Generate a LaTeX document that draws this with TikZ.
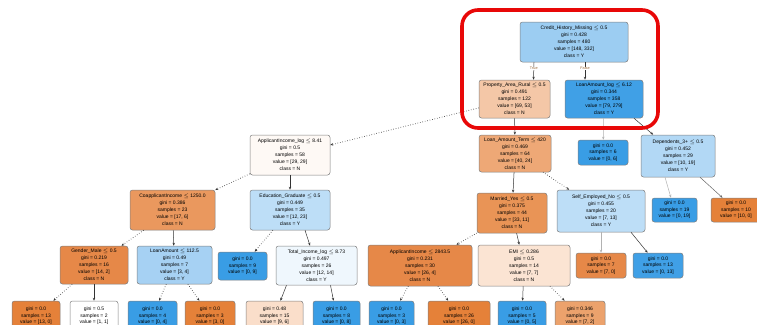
\documentclass[tikz,border=0pt]{standalone}
\usepackage{fontspec}
\setmainfont{Liberation Sans}
\usetikzlibrary{arrows.meta}
\definecolor{cOr}{RGB}{229,129,57}
\definecolor{cBl}{RGB}{57,157,229}
\definecolor{cRoot}{RGB}{156,205,242}
\definecolor{cPeach}{RGB}{244,199,167}
\definecolor{cBlue}{RGB}{64,160,230}
\definecolor{cA}{RGB}{254,249,245}
\definecolor{cB}{RGB}{238,168,118}
\definecolor{cD}{RGB}{178,216,245}
\definecolor{cE}{RGB}{234,152,94}
\definecolor{cF}{RGB}{189,222,247}
\definecolor{cG}{RGB}{233,148,86}
\definecolor{cK}{RGB}{230,136,72}
\definecolor{cL}{RGB}{166,209,243}
\definecolor{cN}{RGB}{239,247,253}
\definecolor{cP}{RGB}{251,228,211}
\definecolor{cNa}{RGB}{250,222,202}
\definecolor{cPb}{RGB}{236,162,108}
\definecolor{cRed}{RGB}{232,8,8}
\tikzset{
  box/.style={draw=black!50, line width=0.5pt, rounded corners=2.5pt, inner sep=0.5pt,
    align=center, font=\fontsize{5}{6.9}\selectfont, text=black},
  leaf/.style={box, font=\fontsize{5}{6.4}\selectfont},
  e/.style={-{Stealth[length=3pt,width=2.4pt]}, line width=0.5pt, black!80},
  ed/.style={e, dotted, line width=0.8pt},
  el/.style={e, black!30},
  lbl/.style={font=\fontsize{3.8}{4}\selectfont, text=brown!80!black, fill=white, inner sep=0.3pt}
}
\begin{document}
\begin{tikzpicture}[x=1pt,y=-1pt]
\clip (0,0) rectangle (757,324);
\fill[white] (0,0) rectangle (757,324);

% level 0
\node[box, fill=cRoot, minimum width=108pt, minimum height=40pt] (root) at (574,42)
  {Credit\_History\_Missing $\le$ 0.5\\gini = 0.428\\samples = 480\\value = [148, 332]\\class = Y};
% level 1
\node[box, fill=cPeach, minimum width=71pt, minimum height=38pt] (n1L) at (514.5,99)
  {Property\_Area\_Rural $\le$ 0.5\\gini = 0.491\\samples = 122\\value = [69, 53]\\class = N};
\node[box, fill=cBlue, minimum width=78pt, minimum height=38pt] (n1R) at (604,99)
  {LoanAmount\_log $\le$ 6.12\\gini = 0.344\\samples = 358\\value = [79, 279]\\class = Y};
% level 2
\node[box, fill=cA, minimum width=80pt, minimum height=40pt] (A) at (290,155)
  {ApplicantIncome\_log $\le$ 8.41\\gini = 0.5\\samples = 58\\value = [29, 29]\\class = N};
\node[box, fill=cB, minimum width=72pt, minimum height=37pt] (B) at (515,153.5)
  {Loan\_Amount\_Term $\le$ 420\\gini = 0.469\\samples = 64\\value = [40, 24]\\class = N};
\node[leaf, fill=cBl, minimum width=50pt, minimum height=25pt] (C) at (603,152.5)
  {gini = 0.0\\samples = 6\\value = [0, 6]};
\node[box, fill=cD, minimum width=74pt, minimum height=42pt] (D) at (678,156)
  {Dependents\_3+ $\le$ 0.5\\gini = 0.452\\samples = 29\\value = [10, 19]\\class = Y};
% level 3
\node[box, fill=cE, minimum width=85pt, minimum height=40pt] (E) at (172.5,210)
  {CoapplicantIncome $\le$ 1250.0\\gini = 0.386\\samples = 23\\value = [17, 6]\\class = N};
\node[box, fill=cF, minimum width=80pt, minimum height=40pt] (F) at (290,210)
  {Education\_Graduate $\le$ 0.5\\gini = 0.449\\samples = 35\\value = [12, 23]\\class = Y};
\node[box, fill=cG, minimum width=70pt, minimum height=40pt] (G) at (512,213)
  {Married\_Yes $\le$ 0.5\\gini = 0.375\\samples = 44\\value = [33, 11]\\class = N};
\node[box, fill=cF, minimum width=88pt, minimum height=42pt] (H) at (601,211)
  {Self\_Employed\_No $\le$ 0.5\\gini = 0.455\\samples = 20\\value = [7, 13]\\class = Y};
\node[leaf, fill=cBl, minimum width=45pt, minimum height=24pt] (I) at (674.5,210)
  {gini = 0.0\\samples = 19\\value = [0, 19]};
\node[leaf, fill=cOr, minimum width=50pt, minimum height=24pt] (J) at (736,210)
  {gini = 0.0\\samples = 10\\value = [10, 0]};
% level 4
\node[box, fill=cK, minimum width=68pt, minimum height=38pt] (K) at (94,265)
  {Gender\_Male $\le$ 0.5\\gini = 0.219\\samples = 16\\value = [14, 2]\\class = N};
\node[box, fill=cL, minimum width=75pt, minimum height=38pt] (L) at (174.5,265)
  {LoanAmount $\le$ 112.5\\gini = 0.49\\samples = 7\\value = [3, 4]\\class = Y};
\node[leaf, fill=cBl, minimum width=49pt, minimum height=28pt] (M) at (242.5,266)
  {gini = 0.0\\samples = 9\\value = [0, 9]};
\node[box, fill=cN, minimum width=81pt, minimum height=39pt] (N) at (316.5,265.5)
  {Total\_Income\_log $\le$ 8.73\\gini = 0.497\\samples = 26\\value = [12, 14]\\class = Y};
\node[box, fill=cK, minimum width=104pt, minimum height=41pt] (O) at (420,265.5)
  {ApplicantIncome $\le$ 2843.5\\gini = 0.231\\samples = 30\\value = [26, 4]\\class = N};
\node[box, fill=cP, minimum width=92pt, minimum height=41pt] (P) at (524,265.5)
  {EMI $\le$ 0.286\\gini = 0.5\\samples = 14\\value = [7, 7]\\class = N};
\node[leaf, fill=cK, minimum width=50pt, minimum height=25pt] (Q) at (601,265.5)
  {gini = 0.0\\samples = 7\\value = [7, 0]};
\node[leaf, fill=cBlue, minimum width=50pt, minimum height=25pt] (R) at (658,265.5)
  {gini = 0.0\\samples = 13\\value = [0, 13]};
% level 5
\node[leaf, fill=cOr, minimum width=48pt, minimum height=30pt] (K1) at (36,316)
  {gini = 0.0\\samples = 13\\value = [13, 0]};
\node[leaf, fill=white, minimum width=48pt, minimum height=30pt] (K2) at (94,316)
  {gini = 0.5\\samples = 2\\value = [1, 1]};
\node[leaf, fill=cBl, minimum width=49pt, minimum height=30pt] (L1) at (152.5,316)
  {gini = 0.0\\samples = 4\\value = [0, 4]};
\node[leaf, fill=cOr, minimum width=50pt, minimum height=30pt] (L2) at (210,316)
  {gini = 0.0\\samples = 3\\value = [3, 0]};
\node[leaf, fill=cNa, minimum width=57pt, minimum height=30pt] (N1) at (274.5,316)
  {gini = 0.48\\samples = 15\\value = [9, 6]};
\node[leaf, fill=cBl, minimum width=47pt, minimum height=30pt] (N2) at (336.5,316)
  {gini = 0.0\\samples = 8\\value = [0, 8]};
\node[leaf, fill=cBl, minimum width=45pt, minimum height=30pt] (O1) at (391.5,316)
  {gini = 0.0\\samples = 3\\value = [0, 3]};
\node[leaf, fill=cOr, minimum width=62pt, minimum height=30pt] (O2) at (459,316)
  {gini = 0.0\\samples = 26\\value = [26, 0]};
\node[leaf, fill=cBl, minimum width=48pt, minimum height=30pt] (P1) at (522,316)
  {gini = 0.0\\samples = 5\\value = [0, 5]};
\node[leaf, fill=cPb, minimum width=50pt, minimum height=30pt] (P2) at (580,316)
  {gini = 0.346\\samples = 9\\value = [7, 2]};

% edges
\draw[e] ([xshift=-40pt]root.south) -- node[lbl, pos=0.35]{True} ([xshift=19pt]n1L.north);
\draw[e] ([xshift=11pt]root.south) -- node[lbl, pos=0.35]{False} ([xshift=-19pt]n1R.north);
\draw[ed] (n1L) -- (A);
\draw[e] (n1L) -- (B);
\draw[el] (n1R) -- (C);
\draw[e] ([xshift=30pt]n1R.south) -- (D);
\draw[ed] (A) -- (E);
\draw[e] (A) -- (F);
\draw[e] (B) -- (G);
\draw[ed] (B) -- (H);
\draw[el] ([xshift=-13pt]D.south) -- (I);
\draw[e, black!60] ([xshift=22pt]D.south) -- (J);
\draw[ed] (E) -- (K);
\draw[e] (E) -- (L);
\draw[ed] (F) -- (M);
\draw[e] ([xshift=15pt]F.south) -- (N);
\draw[ed] (G) -- (O);
\draw[e] (G) -- (P);
\draw[el] (H) -- (Q);
\draw[e] ([xshift=30pt]H.south) -- (R);
\draw[ed] (K) -- (K1);
\draw[e] (K) -- (K2);
\draw[ed] (L) -- (L1);
\draw[ed] (L) -- (L2);
\draw[e] ([xshift=-30pt]N.south) -- (N1);
\draw[e] ([xshift=14pt]N.south) -- (N2);
\draw[ed] (O) -- (O1);
\draw[ed] ([xshift=18pt]O.south) -- (O2);
\draw[e] (P) -- (P1);
\draw[ed] ([xshift=26pt]P.south) -- (P2);

% highlight
\draw[cRed, line width=3.6pt, rounded corners=16pt] (462,10) rectangle (658,128);
\end{tikzpicture}
\end{document}
